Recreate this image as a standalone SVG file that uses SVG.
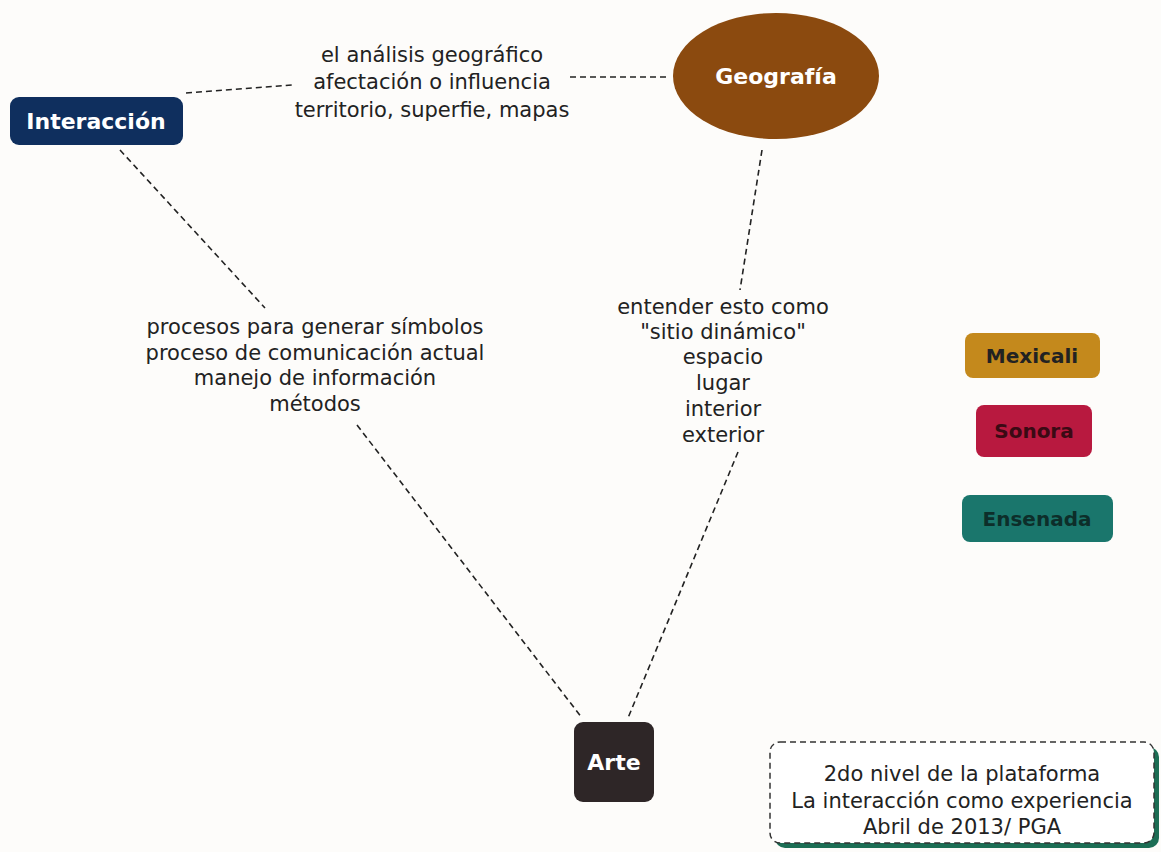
<svg xmlns="http://www.w3.org/2000/svg" width="1161" height="852" viewBox="0 0 1161 852">
<style>
.lbl{font-family:"DejaVu Sans","Liberation Sans",sans-serif;font-size:21px;fill:#222;text-anchor:middle}
.node{font-family:"DejaVu Sans","Liberation Sans",sans-serif;font-size:22px;font-weight:bold;text-anchor:middle}
.edge{stroke:#222;stroke-width:1.6;stroke-dasharray:6 4;fill:none}
</style>
<rect width="1161" height="852" fill="#fdfcfa"/>
<g id="connectors">
<path class="edge" d="M186 93 L292 85"/>
<path class="edge" d="M570 77 L670 77"/>
<path class="edge" d="M120 150 L265 308"/>
<path class="edge" d="M357 425 L582 718"/>
<path class="edge" d="M762 150 L740 290"/>
<path class="edge" d="M738 452 L628 718"/>
</g>
<g id="label-interaccion-geografia">
<text class="lbl" x="432" y="62">el análisis geográfico</text>
<text class="lbl" x="432" y="89">afectación o influencia</text>
<text class="lbl" x="432" y="117">territorio, superfie, mapas</text>
</g>
<g id="label-interaccion-arte">
<text class="lbl" x="315" y="334">procesos para generar símbolos</text>
<text class="lbl" x="315" y="360">proceso de comunicación actual</text>
<text class="lbl" x="315" y="385">manejo de información</text>
<text class="lbl" x="315" y="411">métodos</text>
</g>
<g id="label-geografia-arte">
<text class="lbl" x="723" y="314">entender esto como</text>
<text class="lbl" x="723" y="339">"sitio dinámico"</text>
<text class="lbl" x="723" y="364">espacio</text>
<text class="lbl" x="723" y="390">lugar</text>
<text class="lbl" x="723" y="416">interior</text>
<text class="lbl" x="723" y="442">exterior</text>
</g>
<g id="interaccion">
<rect x="10" y="97" width="173" height="48" rx="9" fill="#0f2f5e"/>
<text class="node" x="96" y="129" fill="#fff">Interacción</text>
</g>
<g id="geografia">
<ellipse cx="776" cy="76" rx="103" ry="63" fill="#8b4a0f"/>
<text class="node" x="776" y="84" fill="#fff">Geografía</text>
</g>
<g id="arte">
<rect x="574" y="722" width="80" height="80" rx="9" fill="#2e2627"/>
<text class="node" x="614" y="770" fill="#fff">Arte</text>
</g>
<g id="mexicali">
<rect x="965" y="333" width="135" height="45" rx="8" fill="#c4891c"/>
<text class="node" x="1032" y="363" fill="#222" style="font-size:20px">Mexicali</text>
</g>
<g id="sonora">
<rect x="976" y="405" width="116" height="52" rx="8" fill="#b8193f"/>
<text class="node" x="1034" y="438" fill="#3a0a14" style="font-size:20px">Sonora</text>
</g>
<g id="ensenada">
<rect x="962" y="495" width="151" height="47" rx="8" fill="#1a766c"/>
<text class="node" x="1037" y="526" fill="#0d2e2a" style="font-size:20px">Ensenada</text>
</g>
<g id="info">
<rect x="775" y="747" width="384" height="101" rx="10" fill="#1c6e55"/>
<rect x="770" y="742" width="384" height="101" rx="10" fill="#fff" stroke="#333" stroke-width="1.5" stroke-dasharray="6 4"/>
<text class="lbl" x="962" y="781">2do nivel de la plataforma</text>
<text class="lbl" x="962" y="808">La interacción como experiencia</text>
<text class="lbl" x="962" y="834">Abril de 2013/ PGA</text>
</g>
</svg>
